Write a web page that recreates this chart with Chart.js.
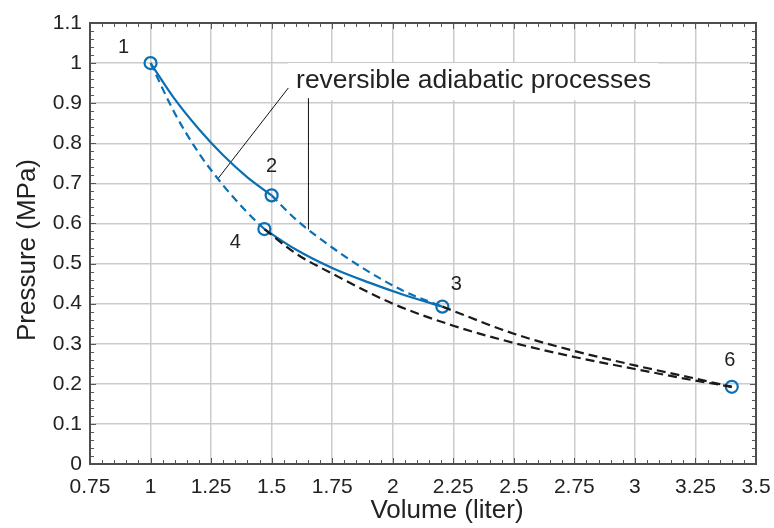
<!DOCTYPE html>
<html>
<head>
<meta charset="utf-8">
<script src="https://cdn.jsdelivr.net/npm/chart.js@4/dist/chart.umd.min.js"></script>
<style>
  html, body { margin: 0; padding: 0; background: #fff; }
  #wrap { width: 774px; height: 528px; }
</style>
</head>
<body>
<div id="wrap"><canvas id="c" width="774" height="528"></canvas></div>
<script>
// Axis ticks
const xTicks = [0.75, 1, 1.25, 1.5, 1.75, 2, 2.25, 2.5, 2.75, 3, 3.25, 3.5];
const xTickLabels = ['0.75', '1', '1.25', '1.5', '1.75', '2', '2.25', '2.5', '2.75', '3', '3.25', '3.5'];
const yTicks = [0, 0.1, 0.2, 0.3, 0.4, 0.5, 0.6, 0.7, 0.8, 0.9, 1, 1.1];
const yTickLabels = ['0', '0.1', '0.2', '0.3', '0.4', '0.5', '0.6', '0.7', '0.8', '0.9', '1', '1.1'];

// State points (volume in liter, pressure in MPa)
const stateNames = ['1', '2', '3', '4', '6'];
const stateV = [1.0, 1.5, 2.205, 1.47, 3.4];
const stateP = [1.0, 0.67, 0.3925, 0.586, 0.1925];

// Process 1-2 (solid blue)
const v12 = [1.0, 1.1, 1.2, 1.3, 1.4, 1.5];
const p12 = [1.0, 0.91, 0.835, 0.77, 0.715, 0.67];
// Process 1-4 (dashed blue)
const v14 = [1.0, 1.1, 1.2, 1.3, 1.4, 1.47];
const p14 = [1.0, 0.875, 0.775, 0.695, 0.627, 0.586];
// Process 2-3 (dashed blue)
const v23 = [1.5, 1.6, 1.75, 1.9, 2.05, 2.205];
const p23 = [0.67, 0.61, 0.54, 0.48, 0.43, 0.3925];
// Process 4-3 (solid blue)
const v43 = [1.47, 1.6, 1.75, 1.9, 2.05, 2.205];
const p43 = [0.586, 0.535, 0.489, 0.453, 0.421, 0.3925];
// Process 4-6 (dashed black)
const v46 = [1.47, 1.6, 1.75, 2.0, 2.25, 2.5, 2.75, 3.0, 3.25, 3.4];
const p46 = [0.586, 0.525, 0.475, 0.40, 0.345, 0.302, 0.267, 0.237, 0.208, 0.1925];
// Process 3-6 (dashed black)
const v36 = [2.205, 2.5, 2.75, 3.0, 3.25, 3.4];
const p36 = [0.3925, 0.325, 0.282, 0.246, 0.213, 0.1925];

// Callout
const calloutText = 'reversible adiabatic processes';
const calloutBox = { v0: 1.568, v1: 3.097, p0: 0.9075, p1: 1.0 };
const leaderA = { v0: 1.569, p0: 0.938, v1: 1.28, p1: 0.713 };
const leaderB = { v0: 1.652, p0: 0.9125, v1: 1.652, p1: 0.585 };

const BLUE = '#0a6fb4';
const FONT = '"Liberation Sans", Arial, Helvetica, sans-serif';

const pts = (xs, ys) => xs.map((x, i) => ({ x: x, y: ys[i] }));

function curve(xs, ys, color, dash) {
  return {
    data: pts(xs, ys),
    showLine: true,
    borderColor: color,
    borderWidth: 2.2,
    borderDash: dash,
    pointRadius: 0,
    pointHoverRadius: 0,
    cubicInterpolationMode: 'monotone',
    fill: false
  };
}

const labelOffsets = { '1': [-27, -16], '2': [0, -29], '3': [14, -22], '4': [-29, 13], '6': [-2, -26] };

const decorations = {
  id: 'decorations',
  beforeDatasetsDraw(chart) {
    const { ctx, chartArea: a, scales: { x, y } } = chart;
    ctx.save();
    // minor and major ticks, inward, on all four sides
    ctx.strokeStyle = '#555';
    ctx.lineWidth = 1;
    for (let k = 0; k <= 55; k++) {
      const v = 0.75 + k * 0.05;
      const px = Math.round(x.getPixelForValue(v)) + 0.5;
      const len = (k % 5 === 0) ? 6 : 4;
      ctx.beginPath();
      ctx.moveTo(px, a.bottom); ctx.lineTo(px, a.bottom - len);
      ctx.moveTo(px, a.top); ctx.lineTo(px, a.top + len);
      ctx.stroke();
    }
    for (let k = 0; k <= 55; k++) {
      const v = k * 0.02;
      const py = Math.round(y.getPixelForValue(v)) + 0.5;
      const len = (k % 5 === 0) ? 6 : 4;
      ctx.beginPath();
      ctx.moveTo(a.left, py); ctx.lineTo(a.left + len, py);
      ctx.moveTo(a.right, py); ctx.lineTo(a.right - len, py);
      ctx.stroke();
    }
    // frame
    ctx.strokeStyle = '#4d4d4d';
    ctx.lineWidth = 2;
    ctx.strokeRect(a.left, a.top, a.right - a.left, a.bottom - a.top);

    // callout box and text
    const bx0 = x.getPixelForValue(calloutBox.v0), bx1 = x.getPixelForValue(calloutBox.v1);
    const by0 = y.getPixelForValue(calloutBox.p1), by1 = y.getPixelForValue(calloutBox.p0);
    ctx.fillStyle = '#fff';
    ctx.fillRect(bx0, by0, bx1 - bx0, by1 - by0);
    ctx.fillStyle = '#222';
    ctx.font = '26.4px ' + FONT;
    ctx.textAlign = 'left';
    ctx.textBaseline = 'alphabetic';
    ctx.fillText(calloutText, bx0 + 8, by0 + 25);

    // leader lines
    ctx.strokeStyle = '#111';
    ctx.lineWidth = 1;
    [leaderA, leaderB].forEach(l => {
      ctx.beginPath();
      ctx.moveTo(x.getPixelForValue(l.v0), y.getPixelForValue(l.p0));
      ctx.lineTo(x.getPixelForValue(l.v1), y.getPixelForValue(l.p1));
      ctx.stroke();
    });
    ctx.restore();
  },
  afterDraw(chart) {
    const { ctx, scales: { x, y } } = chart;
    ctx.save();
    // state numbers
    ctx.fillStyle = '#222';
    ctx.font = '20px ' + FONT;
    ctx.textAlign = 'center';
    ctx.textBaseline = 'middle';
    stateNames.forEach((n, i) => {
      const o = labelOffsets[n];
      ctx.fillText(n, x.getPixelForValue(stateV[i]) + o[0], y.getPixelForValue(stateP[i]) + o[1]);
    });
    // axis titles
    ctx.font = '26px ' + FONT;
    ctx.fillStyle = '#222';
    ctx.textAlign = 'center';
    ctx.textBaseline = 'alphabetic';
    ctx.fillText('Volume (liter)', 447, 518);
    ctx.translate(35, 250);
    ctx.rotate(-Math.PI / 2);
    ctx.fillText('Pressure (MPa)', 0, 0);
    ctx.restore();
  }
};

new Chart(document.getElementById('c'), {
  type: 'scatter',
  data: {
    datasets: [
      curve(v46, p46, '#1a1a1a', [9, 5]),
      curve(v36, p36, '#1a1a1a', [9, 5]),
      curve(v14, p14, BLUE, [8, 5]),
      curve(v23, p23, BLUE, [8, 5]),
      curve(v12, p12, BLUE, []),
      curve(v43, p43, BLUE, []),
      {
        data: pts(stateV, stateP),
        showLine: false,
        pointStyle: 'circle',
        pointRadius: 6,
        pointHoverRadius: 6,
        pointBorderWidth: 2.2,
        pointBorderColor: BLUE,
        pointBackgroundColor: 'rgba(255,255,255,0)'
      }
    ]
  },
  options: {
    responsive: false,
    animation: false,
    devicePixelRatio: 1,
    layout: { padding: { top: 23, right: 18, left: 0, bottom: 0 } },
    plugins: { legend: { display: false }, tooltip: { enabled: false } },
    events: [],
    scales: {
      x: {
        type: 'linear',
        min: 0.75, max: 3.5,
        afterBuildTicks: s => { s.ticks = xTicks.map(v => ({ value: v })); },
        afterFit: s => { s.height = 64; s.paddingLeft = 0; s.paddingRight = 0; },
        grid: { color: '#cbcbcb', lineWidth: 1.5, drawTicks: false },
        border: { display: false },
        ticks: {
          padding: 11,
          color: '#222',
          font: { family: FONT, size: 21 },
          maxRotation: 0,
          autoSkip: false,
          callback: (v, i) => xTickLabels[i]
        }
      },
      y: {
        type: 'linear',
        min: 0, max: 1.1,
        afterBuildTicks: s => { s.ticks = yTicks.map(v => ({ value: v })); },
        afterFit: s => { s.width = 90; s.paddingTop = 0; s.paddingBottom = 0; },
        grid: { color: '#cbcbcb', lineWidth: 1.5, drawTicks: false },
        border: { display: false },
        ticks: {
          padding: 8,
          color: '#222',
          font: { family: FONT, size: 21 },
          autoSkip: false,
          callback: (v, i) => yTickLabels[i]
        }
      }
    }
  },
  plugins: [decorations]
});
</script>
</body>
</html>
